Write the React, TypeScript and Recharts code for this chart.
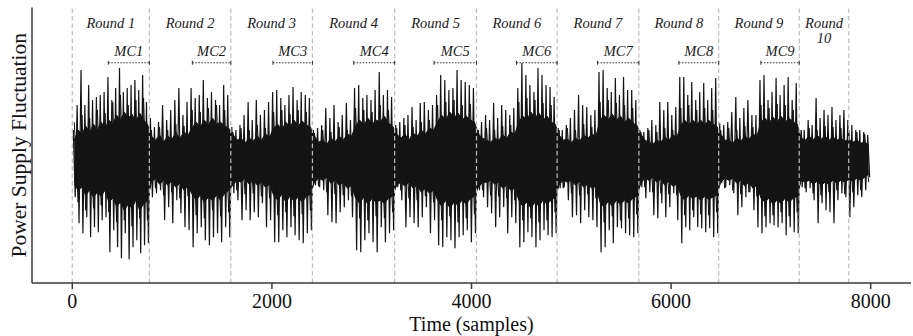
import React from "react";
import {
  ComposedChart,
  Line,
  Area,
  XAxis,
  YAxis,
  ReferenceLine,
  ReferenceDot,
} from "recharts";

// round boundaries (samples); last dashed line closes round 10
const roundStarts = [0, 772, 1588, 2406, 3230, 4050, 4858, 5677, 6477, 7284];
const dashedLines = [0, 772, 1588, 2406, 3230, 4050, 4858, 5677, 6477, 7284, 7780];
const signalEnd = 8000;
const roundLabels = ["Round 1", "Round 2", "Round 3", "Round 4", "Round 5", "Round 6", "Round 7", "Round 8", "Round 9"];
const mcStarts = [361, 1203, 2011, 2820, 3625, 4451, 5263, 6078, 6900];
const mcLabels = ["MC1", "MC2", "MC3", "MC4", "MC5", "MC6", "MC7", "MC8", "MC9"];
const xTicks = [0, 2000, 4000, 6000, 8000];

// spike peaks / troughs read per round (first half quiet, MC half louder)
const r1High = [0.3, 0.55, 0.9, 0.55, 0.75, 0.6, 0.63, 0.65, 0.68, 0.83, 0.6, 0.72, 0.92, 0.68, 0.72, 0.75, 0.8, 0.7, 0.85, 0.58];
const r1Low = [-0.37, -0.63, -0.73, -0.57, -0.77, -0.67, -0.72, -0.6, -0.57, -0.92, -0.7, -0.87, -0.98, -0.73, -0.99, -0.87, -0.8, -0.93, -0.85, -0.83];
const r2High = [0.42, 0.33, 0.38, 0.55, 0.4, 0.5, 0.6, 0.72, 0.45, 0.58, 0.72, 0.62, 0.65, 0.8, 0.62, 0.68, 0.6, 0.55, 0.75, 0.65];
const r2Low = [-0.37, -0.33, -0.3, -0.6, -0.47, -0.63, -0.4, -0.53, -0.67, -0.7, -0.87, -0.73, -0.67, -0.8, -0.85, -0.77, -0.73, -0.82, -0.67, -0.77];
const r3High = [0.33, 0.3, 0.35, 0.45, 0.58, 0.4, 0.6, 0.45, 0.5, 0.58, 0.68, 0.7, 0.62, 0.55, 0.65, 0.73, 0.6, 0.68, 0.65, 0.62];
const r3Low = [-0.33, -0.4, -0.6, -0.5, -0.6, -0.52, -0.57, -0.43, -0.67, -0.6, -0.82, -0.82, -0.7, -0.77, -0.67, -0.75, -0.8, -0.83, -0.73, -0.7];
const r4High = [0.3, 0.32, 0.35, 0.52, 0.42, 0.55, 0.38, 0.45, 0.57, 0.4, 0.72, 0.75, 0.62, 0.65, 0.6, 0.7, 0.88, 0.65, 0.7, 0.63];
const r4Low = [-0.25, -0.27, -0.3, -0.55, -0.62, -0.63, -0.52, -0.47, -0.4, -0.57, -0.9, -0.92, -0.8, -0.73, -0.82, -0.92, -0.67, -0.82, -0.73, -0.7];
const r5High = [0.35, 0.38, 0.42, 0.45, 0.53, 0.4, 0.57, 0.58, 0.5, 0.55, 0.65, 0.85, 0.8, 0.7, 0.72, 0.9, 0.8, 0.78, 0.75, 0.72];
const r5Low = [-0.27, -0.4, -0.67, -0.57, -0.63, -0.67, -0.57, -0.47, -0.73, -0.6, -0.85, -0.87, -0.77, -0.8, -0.88, -0.77, -0.75, -0.7, -0.82, -0.73];
const r6High = [0.3, 0.38, 0.45, 0.4, 0.57, 0.42, 0.55, 0.5, 0.45, 0.52, 0.72, 0.97, 0.85, 0.75, 0.68, 0.92, 0.85, 0.75, 0.73, 0.63];
const r6Low = [-0.3, -0.37, -0.47, -0.53, -0.67, -0.57, -0.47, -0.73, -0.57, -0.63, -0.87, -0.82, -0.72, -0.77, -0.87, -0.8, -0.7, -0.75, -0.77, -0.73];
const r7High = [0.32, 0.3, 0.35, 0.42, 0.5, 0.65, 0.55, 0.53, 0.45, 0.5, 0.88, 0.9, 0.72, 0.68, 0.82, 0.65, 0.83, 0.7, 0.7, 0.6];
const r7Low = [-0.28, -0.27, -0.4, -0.57, -0.55, -0.63, -0.5, -0.57, -0.6, -0.67, -0.92, -0.87, -0.7, -0.83, -0.67, -0.68, -0.73, -0.75, -0.77, -0.73];
const r8High = [0.3, 0.28, 0.32, 0.4, 0.35, 0.58, 0.5, 0.58, 0.45, 0.53, 0.83, 0.83, 0.65, 0.78, 0.6, 0.68, 0.77, 0.6, 0.72, 0.82];
const r8Low = [-0.27, -0.38, -0.32, -0.55, -0.58, -0.43, -0.57, -0.47, -0.33, -0.6, -0.83, -0.67, -0.7, -0.57, -0.67, -0.68, -0.72, -0.68, -0.77, -0.73];
const r9High = [0.37, 0.35, 0.38, 0.48, 0.63, 0.42, 0.52, 0.6, 0.45, 0.45, 0.8, 0.85, 0.6, 0.68, 0.82, 0.65, 0.75, 0.83, 0.6, 0.77];
const r9Low = [-0.23, -0.27, -0.25, -0.33, -0.55, -0.47, -0.37, -0.32, -0.5, -0.67, -0.73, -0.67, -0.63, -0.65, -0.67, -0.63, -0.75, -0.67, -0.72, -0.73];
const r10High = [0.25, 0.3, 0.4, 0.35, 0.62, 0.42, 0.5, 0.45, 0.53, 0.4, 0.45, 0.5, 0.4, 0.35, 0.3, 0.3, 0.28, 0.25];
const r10Low = [-0.27, -0.32, -0.28, -0.4, -0.63, -0.43, -0.5, -0.52, -0.63, -0.4, -0.33, -0.37, -0.57, -0.47, -0.35, -0.37, -0.3, -0.17];

// medium spikes lying between the big ones
const r1Mid = [0.38, -0.42, 0.45, -0.5, 0.42, -0.48, 0.5, -0.45, 0.47, -0.52, 0.58, -0.62, 0.65, -0.6, 0.55, -0.66, 0.6, -0.58, 0.62, -0.6];
const r2Mid = [0.3, -0.28, 0.33, -0.35, 0.3, -0.32, 0.36, -0.38, 0.34, -0.36, 0.5, -0.55, 0.48, -0.58, 0.52, -0.5, 0.55, -0.56, 0.5, -0.52];
const r3Mid = [0.28, -0.3, 0.32, -0.34, 0.3, -0.33, 0.35, -0.36, 0.32, -0.38, 0.48, -0.55, 0.5, -0.52, 0.46, -0.56, 0.5, -0.54, 0.48, -0.5];
const r4Mid = [0.27, -0.26, 0.3, -0.32, 0.28, -0.34, 0.33, -0.35, 0.3, -0.36, 0.52, -0.58, 0.5, -0.6, 0.48, -0.56, 0.55, -0.58, 0.5, -0.52];
const r5Mid = [0.32, -0.3, 0.35, -0.38, 0.33, -0.4, 0.38, -0.36, 0.4, -0.42, 0.55, -0.6, 0.58, -0.56, 0.6, -0.62, 0.55, -0.58, 0.56, -0.54];
const r6Mid = [0.3, -0.3, 0.32, -0.35, 0.3, -0.36, 0.34, -0.38, 0.35, -0.4, 0.58, -0.6, 0.62, -0.58, 0.6, -0.62, 0.57, -0.6, 0.55, -0.52];
const r7Mid = [0.3, -0.28, 0.32, -0.33, 0.3, -0.35, 0.36, -0.34, 0.33, -0.38, 0.58, -0.62, 0.6, -0.56, 0.57, -0.6, 0.55, -0.58, 0.52, -0.54];
const r8Mid = [0.28, -0.27, 0.3, -0.32, 0.28, -0.33, 0.32, -0.34, 0.3, -0.35, 0.52, -0.55, 0.55, -0.5, 0.5, -0.54, 0.52, -0.55, 0.5, -0.52];
const r9Mid = [0.3, -0.28, 0.32, -0.3, 0.3, -0.34, 0.34, -0.32, 0.33, -0.36, 0.55, -0.56, 0.52, -0.55, 0.56, -0.52, 0.55, -0.56, 0.5, -0.52];
const r10Mid = [0.3, -0.28, 0.32, -0.33, 0.3, -0.35, 0.34, -0.32, 0.33, -0.3, 0.32, -0.34, 0.3, -0.32, 0.28, -0.3, 0.26, -0.22];

// ragged solid core of the trace, per round
const r1CoreHi = [0.2, 0.3, 0.26, 0.34, 0.28, 0.36, 0.3, 0.38, 0.32, 0.4, 0.36, 0.45, 0.4, 0.48, 0.42, 0.46, 0.38, 0.47, 0.4, 0.36];
const r1CoreLo = [-0.24, -0.3, -0.27, -0.35, -0.3, -0.37, -0.32, -0.36, -0.3, -0.42, -0.38, -0.46, -0.42, -0.5, -0.44, -0.48, -0.4, -0.5, -0.44, -0.4];
const r2CoreHi = [0.24, 0.2, 0.25, 0.18, 0.24, 0.21, 0.27, 0.22, 0.28, 0.25, 0.32, 0.38, 0.33, 0.4, 0.35, 0.42, 0.36, 0.38, 0.34, 0.32];
const r2CoreLo = [-0.22, -0.18, -0.24, -0.2, -0.25, -0.21, -0.27, -0.23, -0.3, -0.26, -0.34, -0.4, -0.35, -0.42, -0.37, -0.4, -0.35, -0.4, -0.33, -0.3];
const r3CoreHi = [0.26, 0.2, 0.22, 0.17, 0.22, 0.19, 0.24, 0.2, 0.26, 0.23, 0.32, 0.36, 0.3, 0.38, 0.33, 0.4, 0.34, 0.39, 0.35, 0.33];
const r3CoreLo = [-0.25, -0.2, -0.22, -0.18, -0.24, -0.2, -0.25, -0.22, -0.27, -0.24, -0.35, -0.4, -0.34, -0.42, -0.36, -0.41, -0.37, -0.42, -0.36, -0.34];
const r4CoreHi = [0.24, 0.18, 0.2, 0.16, 0.22, 0.18, 0.24, 0.2, 0.26, 0.24, 0.34, 0.4, 0.35, 0.42, 0.36, 0.4, 0.38, 0.44, 0.37, 0.34];
const r4CoreLo = [-0.22, -0.18, -0.2, -0.17, -0.23, -0.2, -0.25, -0.22, -0.28, -0.25, -0.38, -0.43, -0.37, -0.44, -0.38, -0.42, -0.4, -0.43, -0.38, -0.36];
const r5CoreHi = [0.26, 0.22, 0.26, 0.2, 0.27, 0.24, 0.3, 0.26, 0.32, 0.3, 0.38, 0.45, 0.4, 0.48, 0.42, 0.47, 0.4, 0.44, 0.4, 0.38];
const r5CoreLo = [-0.25, -0.22, -0.26, -0.22, -0.28, -0.25, -0.32, -0.28, -0.33, -0.3, -0.4, -0.46, -0.4, -0.48, -0.42, -0.45, -0.4, -0.44, -0.38, -0.36];
const r6CoreHi = [0.26, 0.22, 0.2, 0.18, 0.22, 0.2, 0.25, 0.22, 0.28, 0.26, 0.38, 0.44, 0.4, 0.48, 0.42, 0.47, 0.4, 0.44, 0.38, 0.36];
const r6CoreLo = [-0.27, -0.22, -0.22, -0.2, -0.24, -0.22, -0.28, -0.25, -0.3, -0.28, -0.4, -0.46, -0.42, -0.48, -0.42, -0.46, -0.4, -0.44, -0.4, -0.37];
const r7CoreHi = [0.25, 0.2, 0.21, 0.18, 0.22, 0.19, 0.25, 0.22, 0.26, 0.24, 0.4, 0.45, 0.4, 0.46, 0.4, 0.44, 0.38, 0.42, 0.37, 0.35];
const r7CoreLo = [-0.25, -0.2, -0.22, -0.2, -0.25, -0.21, -0.27, -0.24, -0.28, -0.26, -0.42, -0.47, -0.41, -0.46, -0.4, -0.44, -0.4, -0.43, -0.38, -0.36];
const r8CoreHi = [0.26, 0.2, 0.18, 0.16, 0.2, 0.18, 0.23, 0.2, 0.25, 0.23, 0.34, 0.4, 0.35, 0.4, 0.36, 0.4, 0.35, 0.4, 0.36, 0.34];
const r8CoreLo = [-0.23, -0.18, -0.2, -0.17, -0.22, -0.19, -0.25, -0.21, -0.26, -0.24, -0.35, -0.4, -0.35, -0.38, -0.36, -0.4, -0.36, -0.39, -0.37, -0.35];
const r9CoreHi = [0.26, 0.2, 0.2, 0.17, 0.22, 0.19, 0.24, 0.21, 0.26, 0.24, 0.38, 0.42, 0.37, 0.43, 0.38, 0.44, 0.38, 0.42, 0.38, 0.36];
const r9CoreLo = [-0.22, -0.18, -0.2, -0.18, -0.23, -0.2, -0.26, -0.22, -0.28, -0.25, -0.38, -0.42, -0.38, -0.44, -0.4, -0.43, -0.38, -0.42, -0.38, -0.36];
const r10CoreHi = [0.22, 0.2, 0.24, 0.2, 0.25, 0.21, 0.24, 0.2, 0.23, 0.2, 0.22, 0.19, 0.21, 0.18, 0.2, 0.17, 0.18, 0.15];
const r10CoreLo = [-0.2, -0.22, -0.2, -0.24, -0.21, -0.25, -0.22, -0.24, -0.2, -0.23, -0.2, -0.22, -0.19, -0.21, -0.18, -0.2, -0.17, -0.14];

const highs = [r1High, r2High, r3High, r4High, r5High, r6High, r7High, r8High, r9High, r10High];
const lows = [r1Low, r2Low, r3Low, r4Low, r5Low, r6Low, r7Low, r8Low, r9Low, r10Low];
const mids = [r1Mid, r2Mid, r3Mid, r4Mid, r5Mid, r6Mid, r7Mid, r8Mid, r9Mid, r10Mid];
const coreHighs = [r1CoreHi, r2CoreHi, r3CoreHi, r4CoreHi, r5CoreHi, r6CoreHi, r7CoreHi, r8CoreHi, r9CoreHi, r10CoreHi];
const coreLows = [r1CoreLo, r2CoreLo, r3CoreLo, r4CoreLo, r5CoreLo, r6CoreLo, r7CoreLo, r8CoreLo, r9CoreLo, r10CoreLo];

const roundEnd = (k: number) => (k + 1 < roundStarts.length ? roundStarts[k + 1] : signalEnd);

const signal: { t: number; v: number }[] = [];
const midSignal: { t: number; v: number }[] = [];
const core: { t: number; band: [number, number] }[] = [];
roundStarts.forEach((start, k) => {
  const end = roundEnd(k);
  const n = highs[k].length;
  const w = (end - start) / n;
  for (let j = 0; j < n; j++) {
    signal.push({ t: start + (j + 0.25) * w, v: highs[k][j] });
    signal.push({ t: start + (j + 0.75) * w, v: lows[k][j] });
    midSignal.push({ t: start + (j + 0.5) * w, v: mids[k][j] });
  }
  const m = coreHighs[k].length;
  const cw = (end - start) / m;
  for (let j = 0; j < m; j++) {
    core.push({ t: start + (j + 0.5) * cw, band: [coreLows[k][j], coreHighs[k][j]] });
  }
});

const SERIF = '"Liberation Serif", "Times New Roman", serif';
const FRAME = "#3a3a3a";
const INK = "#141414";
const Y_DOMAIN: [number, number] = [-1.227, 1.525];
const X_DOMAIN: [number, number] = [-404, 8404];
const ROUND_Y = 1.37;
const MC_TEXT_Y = 1.09;
const MC_LINE_Y = 0.973;

const italicLabel = (text: string) => (props: any) => {
  const vb = props.viewBox || {};
  const cx = vb.x + (vb.width || 0) / 2;
  const cy = vb.y + (vb.height || 0) / 2;
  return (
    <text
      x={cx}
      y={cy}
      textAnchor="middle"
      dominantBaseline="central"
      fontFamily={SERIF}
      fontStyle="italic"
      fontSize={14.5}
      fill="#1a1a1a"
    >
      {text}
    </text>
  );
};

const App: React.FC = () => {
  return (
    <div style={{ position: "absolute", left: 0, top: 0, background: "#fff" }}>
      <ComposedChart
        width={913}
        height={336}
        margin={{ top: 7.5, right: 2, left: 5, bottom: 0 }}
      >
        <XAxis
          dataKey="t"
          type="number"
          domain={X_DOMAIN}
          allowDataOverflow
          ticks={xTicks}
          height={53}
          stroke={FRAME}
          strokeWidth={1.5}
          tickSize={6}
          tickMargin={5}
          tick={{ fontSize: 20, fontFamily: SERIF, fill: "#111" }}
          label={(props: any) => {
            const vb = props.viewBox;
            return (
              <text
                x={vb.x + vb.width / 2}
                y={vb.y + vb.height - 5}
                textAnchor="middle"
                fontFamily={SERIF}
                fontSize={20}
                fill="#111"
              >
                Time (samples)
              </text>
            );
          }}
        />
        <XAxis
          xAxisId="top"
          orientation="top"
          dataKey="t"
          type="number"
          domain={X_DOMAIN}
          allowDataOverflow
          height={0}
          tick={false}
          tickLine={false}
          stroke={FRAME}
          strokeWidth={1.5}
        />
        <YAxis
          type="number"
          domain={Y_DOMAIN}
          allowDataOverflow
          width={27}
          tick={false}
          tickLine={false}
          stroke={FRAME}
          strokeWidth={1.5}
          label={(props: any) => {
            const vb = props.viewBox;
            const cx = vb.x + vb.width / 2;
            const cy = vb.y + vb.height / 2;
            return (
              <text
                x={cx}
                y={cy}
                transform={`rotate(-90 ${cx} ${cy})`}
                textAnchor="middle"
                dominantBaseline="central"
                fontFamily={SERIF}
                fontSize={21.5}
                fill="#111"
              >
                Power Supply Fluctuation
              </text>
            );
          }}
        />
        <YAxis
          yAxisId="right"
          orientation="right"
          type="number"
          domain={Y_DOMAIN}
          allowDataOverflow
          width={0}
          tick={false}
          tickLine={false}
          stroke={FRAME}
          strokeWidth={1.5}
        />

        <Area
          data={core}
          type="linear"
          dataKey="band"
          stroke={INK}
          strokeWidth={1}
          fill={INK}
          fillOpacity={1}
          dot={false}
          activeDot={false}
          isAnimationActive={false}
        />
        <Line
          data={midSignal}
          type="linear"
          dataKey="v"
          stroke={INK}
          strokeWidth={1}
          dot={false}
          activeDot={false}
          isAnimationActive={false}
        />
        <Line
          data={signal}
          type="linear"
          dataKey="v"
          stroke={INK}
          strokeWidth={1.2}
          dot={false}
          activeDot={false}
          isAnimationActive={false}
        />

        {dashedLines.map((x) => (
          <ReferenceLine
            key={`d${x}`}
            x={x}
            stroke="#bdbdbd"
            strokeWidth={1.2}
            strokeDasharray="4.5 3"
          />
        ))}

        {mcStarts.map((s, i) => {
          const e = roundStarts[i + 1];
          return (
            <React.Fragment key={`mc${i}`}>
              <ReferenceLine
                segment={[
                  { x: s, y: MC_LINE_Y },
                  { x: e, y: MC_LINE_Y },
                ]}
                stroke="#333"
                strokeWidth={1}
                strokeDasharray="1.5 1.5"
              />
              <ReferenceLine
                segment={[
                  { x: s, y: MC_LINE_Y - 0.02 },
                  { x: s, y: MC_LINE_Y + 0.02 },
                ]}
                stroke="#333"
                strokeWidth={1}
              />
              <ReferenceLine
                segment={[
                  { x: e, y: MC_LINE_Y - 0.02 },
                  { x: e, y: MC_LINE_Y + 0.02 },
                ]}
                stroke="#333"
                strokeWidth={1}
              />
              <ReferenceDot
                x={(s + e) / 2}
                y={MC_TEXT_Y}
                r={0}
                fill="none"
                stroke="none"
                label={italicLabel(mcLabels[i])}
              />
            </React.Fragment>
          );
        })}

        {roundLabels.map((name, i) => (
          <ReferenceDot
            key={name}
            x={(roundStarts[i] + roundStarts[i + 1]) / 2}
            y={ROUND_Y}
            r={0}
            fill="none"
            stroke="none"
            label={italicLabel(name)}
          />
        ))}
        <ReferenceDot
          x={(dashedLines[9] + dashedLines[10]) / 2}
          y={ROUND_Y}
          r={0}
          fill="none"
          stroke="none"
          label={italicLabel("Round")}
        />
        <ReferenceDot
          x={(dashedLines[9] + dashedLines[10]) / 2}
          y={1.225}
          r={0}
          fill="none"
          stroke="none"
          label={italicLabel("10")}
        />
      </ComposedChart>
    </div>
  );
};

export default App;
